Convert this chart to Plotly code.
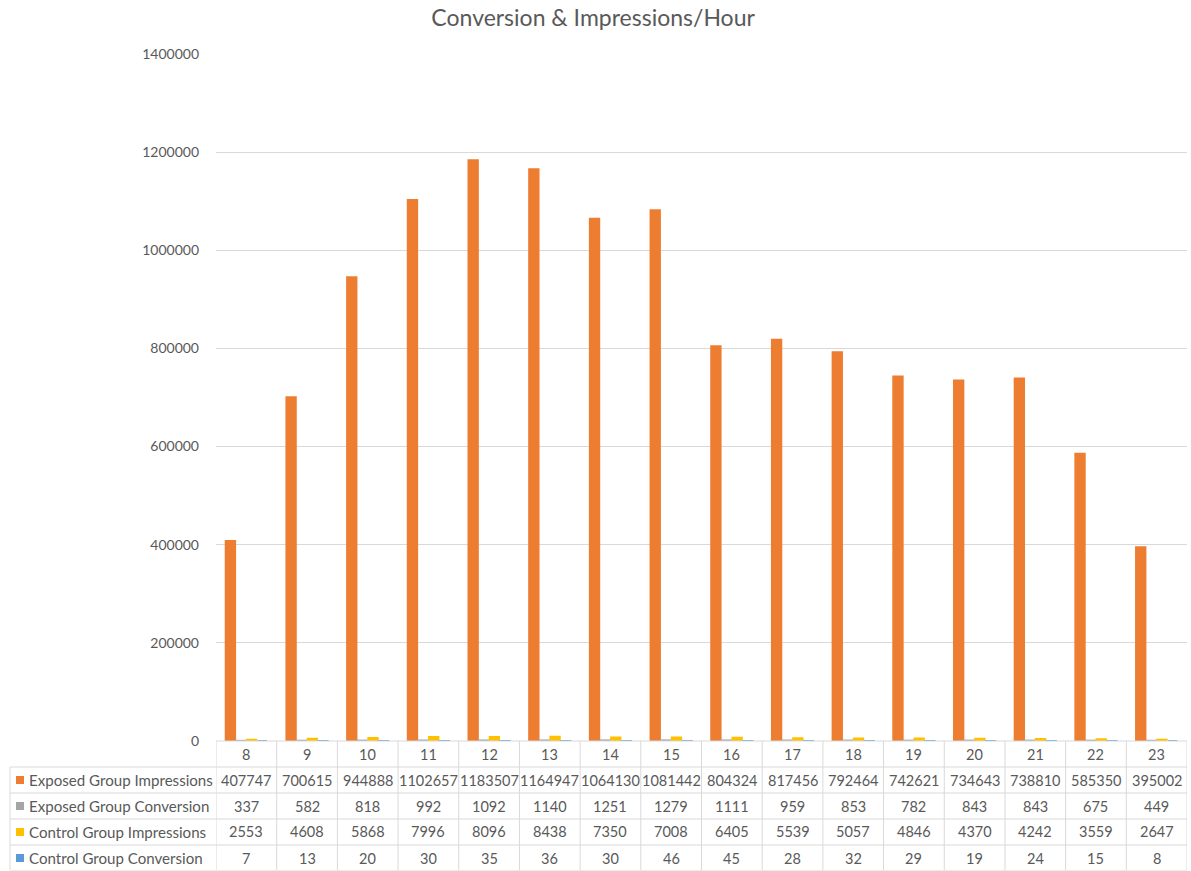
import plotly.graph_objects as go

# Hourly data
hours = ["8", "9", "10", "11", "12", "13", "14", "15", "16", "17", "18", "19", "20", "21", "22", "23"]
exposed_impressions = [407747, 700615, 944888, 1102657, 1183507, 1164947, 1064130, 1081442,
                       804324, 817456, 792464, 742621, 734643, 738810, 585350, 395002]
exposed_conversion = [337, 582, 818, 992, 1092, 1140, 1251, 1279, 1111, 959, 853, 782, 843, 843, 675, 449]
control_impressions = [2553, 4608, 5868, 7996, 8096, 8438, 7350, 7008, 6405, 5539, 5057, 4846, 4370, 4242, 3559, 2647]
control_conversion = [7, 13, 20, 30, 35, 36, 30, 46, 45, 28, 32, 29, 19, 24, 15, 8]

series_names = ["Exposed Group Impressions", "Exposed Group Conversion",
                "Control Group Impressions", "Control Group Conversion"]
series_values = [exposed_impressions, exposed_conversion, control_impressions, control_conversion]
series_colors = ["#ED7D31", "#A5A5A5", "#FFC000", "#5B9BD5"]

y_ticks = [0, 200000, 400000, 600000, 800000, 1000000, 1200000, 1400000]

FONT = "Lato, 'Open Sans', sans-serif"
TEXT = "#595959"
GRID = "#D9D9D9"

# Page geometry (pixels)
W, H = 1191, 871
L, R, T, B = 216, 4, 54, 130
PW, PH = W - L - R, H - T - B


def px_x(px):
    return (px - L) / PW


def px_y(py):
    return (H - B - py) / PH


fig = go.Figure()
for name, vals, col in zip(series_names, series_values, series_colors):
    fig.add_trace(go.Bar(
        x=hours, y=vals, name=name,
        marker=dict(color=col, line=dict(color=col, width=2)),
    ))

shapes = []
annotations = []

# Data table below the plot area
row_h = 26
header_top = H - B          # 741
rows_top = header_top + row_h
table_left = 10
n = len(hours)

line = dict(color=GRID, width=1)
# top border of the header row (acts as the category axis line)
shapes.append(dict(type="line", xref="paper", yref="paper",
                   x0=0, x1=1, y0=px_y(header_top), y1=px_y(header_top), line=line))
# horizontal row borders spanning the label column too
for k in range(5):
    yy = px_y(rows_top + k * row_h)
    shapes.append(dict(type="line", xref="paper", yref="paper",
                       x0=px_x(table_left), x1=1, y0=yy, y1=yy, line=line))
# vertical borders between categories
for i in range(n + 1):
    shapes.append(dict(type="line", xref="x", yref="paper",
                       x0=i - 0.5, x1=i - 0.5, y0=px_y(header_top), y1=px_y(H - 1), line=line))
# left border of label column
shapes.append(dict(type="line", xref="paper", yref="paper",
                   x0=px_x(table_left), x1=px_x(table_left),
                   y0=px_y(rows_top), y1=px_y(H - 1), line=line))

# header: category labels (positioned by category index on the x axis)
for i, h in enumerate(hours):
    annotations.append(dict(x=i, xref="x", y=px_y(header_top + row_h / 2), yref="paper",
                            text=h, showarrow=False, xanchor="center", yanchor="middle",
                            font=dict(family=FONT, size=14.5, color=TEXT)))

# rows: legend key, series name and values
for r, (name, vals, col) in enumerate(zip(series_names, series_values, series_colors)):
    cy = rows_top + r * row_h + row_h / 2
    shapes.append(dict(type="rect", xref="paper", yref="paper",
                       x0=px_x(16), x1=px_x(24), y0=px_y(cy - 4), y1=px_y(cy + 4),
                       fillcolor=col, line=dict(width=0)))
    annotations.append(dict(x=px_x(27), xref="paper", y=px_y(cy), yref="paper",
                            text=name, showarrow=False, xanchor="left", yanchor="middle",
                            font=dict(family=FONT, size=15.1, color=TEXT)))
    for i, v in enumerate(vals):
        annotations.append(dict(x=i, xref="x", y=px_y(cy), yref="paper",
                                text=str(v), showarrow=False, xanchor="center", yanchor="middle",
                                font=dict(family=FONT, size=14.5, color=TEXT)))

fig.update_layout(
    width=W, height=H,
    margin=dict(l=L, r=R, t=T, b=B, pad=0),
    paper_bgcolor="white", plot_bgcolor="white",
    title=dict(text="Conversion & Impressions/Hour", x=0.498, xanchor="center",
               y=1 - 18 / H, yanchor="middle",
               font=dict(family=FONT, size=23, color=TEXT)),
    barmode="group", bargap=0.3, bargroupgap=0.12,
    showlegend=False,
    xaxis=dict(showticklabels=False, showgrid=False, showline=False, zeroline=False,
               ticks="", range=[-0.5, n - 0.5]),
    yaxis=dict(range=[0, 1400000], tickvals=y_ticks, ticktext=[str(t) for t in y_ticks],
               showgrid=True, gridcolor=GRID, gridwidth=1, zeroline=False, showline=False,
               ticks="", ticklabelstandoff=16,
               tickfont=dict(family=FONT, size=14, color=TEXT)),
    shapes=shapes, annotations=annotations,
)

fig.write_html("out.html")
